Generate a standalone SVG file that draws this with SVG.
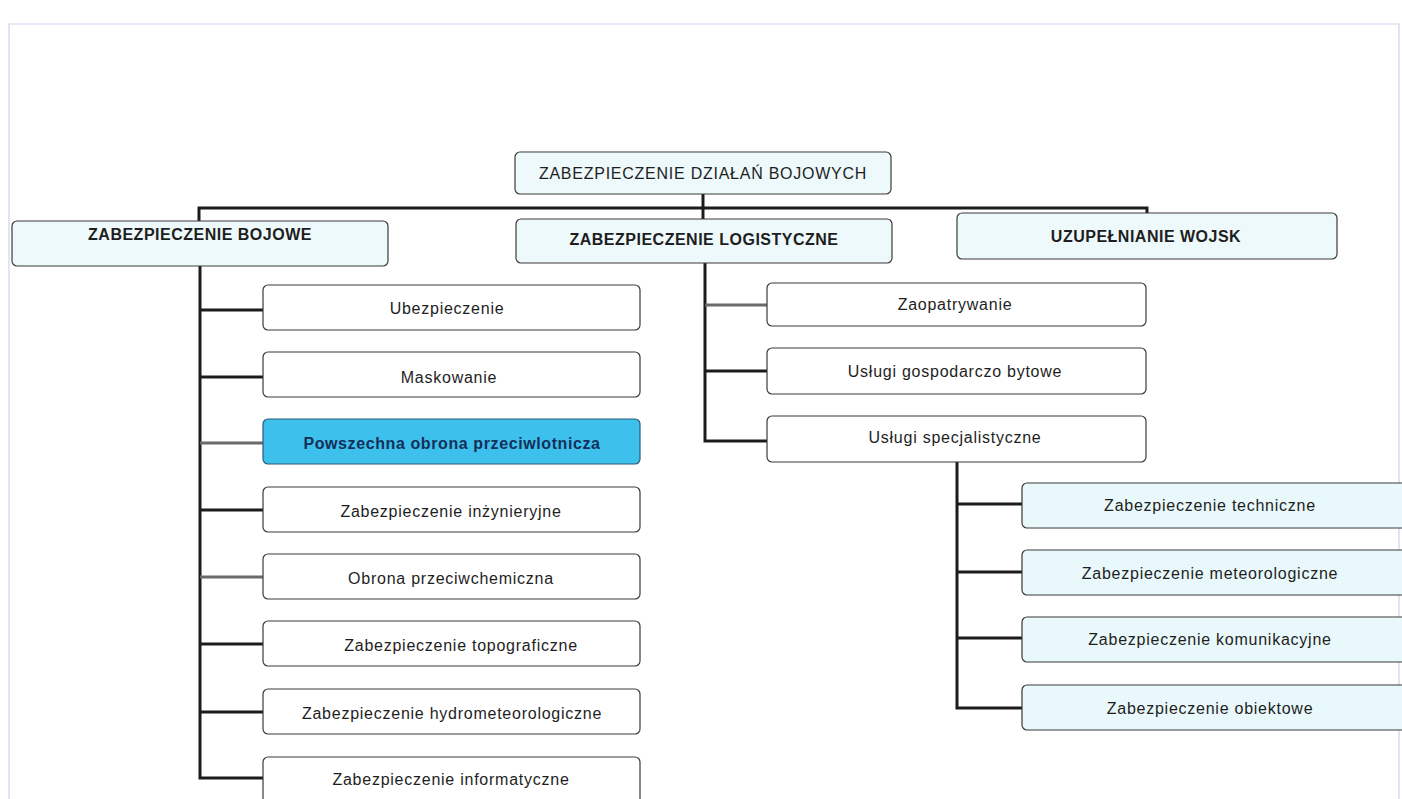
<svg xmlns="http://www.w3.org/2000/svg" width="1402" height="799" viewBox="0 0 1402 799">
  <style>
    .box { stroke: #3a3a3a; stroke-width: 1.2; }
    .head { fill: #eef9fb; }
    .plain { fill: #ffffff; }
    .sub { fill: #e9f8fa; }
    .hot { fill: #3ec0ec; stroke: #2a5a78; }
    .t { font-family: "Liberation Sans", Arial, sans-serif; font-size: 16px; letter-spacing: 0.75px; fill: #1e1e1e; text-anchor: middle; }
    .tb { font-weight: bold; letter-spacing: 0.5px; }
    .thot { font-weight: bold; letter-spacing: 0.6px; fill: #14305a; }
    .wire { fill: none; stroke: #1c1c1c; stroke-width: 3; }
    .wire-soft { fill: none; stroke: #6a6a6a; stroke-width: 3; }
  </style>

  <rect width="1402" height="799" fill="#ffffff"/>
  <!-- page frame -->
  <path d="M9 799 V24 H1399 V799" fill="none" stroke="#cfd3ee" stroke-width="1.2"/>

  <!-- connectors -->
  <g id="connectors">
    <!-- root to level 1 -->
    <path class="wire" d="M703 194 V219"/>
    <path class="wire" d="M199 222 V208 H1147 V214"/>
    <!-- combat branch trunk -->
    <path class="wire" d="M200 266 V778 H264"/>
    <path class="wire" d="M200 310 H264"/>
    <path class="wire" d="M200 377 H264"/>
    <path class="wire-soft" d="M200 443 H264"/>
    <path class="wire" d="M200 510 H264"/>
    <path class="wire-soft" d="M200 577 H264"/>
    <path class="wire" d="M200 644 H264"/>
    <path class="wire" d="M200 712 H264"/>
    <!-- logistics branch trunk -->
    <path class="wire" d="M705 263 V441 H768"/>
    <path class="wire-soft" d="M705 305 H768"/>
    <path class="wire" d="M705 371 H768"/>
    <!-- specialist services trunk -->
    <path class="wire" d="M957 462 V708 H1022"/>
    <path class="wire" d="M957 504 H1022"/>
    <path class="wire" d="M957 572 H1022"/>
    <path class="wire" d="M957 638 H1022"/>
  </g>

  <!-- root -->
  <g id="root">
    <rect class="box head" x="515" y="152" width="376" height="42" rx="5"/>
    <text class="t" x="703" y="179">ZABEZPIECZENIE DZIAŁAŃ BOJOWYCH</text>
  </g>

  <!-- level 1 -->
  <g id="bojowe">
    <rect class="box head" x="12" y="221" width="376" height="45" rx="5"/>
    <text class="t tb" x="200" y="240">ZABEZPIECZENIE BOJOWE</text>
  </g>
  <g id="logistyczne">
    <rect class="box head" x="516" y="219" width="376" height="44" rx="5"/>
    <text class="t tb" x="704" y="245">ZABEZPIECZENIE LOGISTYCZNE</text>
  </g>
  <g id="uzupelnianie">
    <rect class="box head" x="957" y="213" width="380" height="46" rx="5"/>
    <text class="t tb" x="1146" y="242">UZUPEŁNIANIE WOJSK</text>
  </g>

  <!-- combat support items -->
  <g id="ubezpieczenie">
    <rect class="box plain" x="263" y="285" width="377" height="45" rx="5"/>
    <text class="t" x="447" y="314">Ubezpieczenie</text>
  </g>
  <g id="maskowanie">
    <rect class="box plain" x="263" y="352" width="377" height="45" rx="5"/>
    <text class="t" x="449" y="383">Maskowanie</text>
  </g>
  <g id="powszechna">
    <rect class="box hot" x="263" y="419" width="377" height="45" rx="5"/>
    <text class="t thot" x="452" y="449">Powszechna obrona przeciwlotnicza</text>
  </g>
  <g id="inzynieryjne">
    <rect class="box plain" x="263" y="487" width="377" height="45" rx="5"/>
    <text class="t" x="451" y="517">Zabezpieczenie inżynieryjne</text>
  </g>
  <g id="przeciwchemiczna">
    <rect class="box plain" x="263" y="554" width="377" height="45" rx="5"/>
    <text class="t" x="451" y="584">Obrona przeciwchemiczna</text>
  </g>
  <g id="topograficzne">
    <rect class="box plain" x="263" y="621" width="377" height="45" rx="5"/>
    <text class="t" x="461" y="651">Zabezpieczenie topograficzne</text>
  </g>
  <g id="hydrometeorologiczne">
    <rect class="box plain" x="263" y="689" width="377" height="45" rx="5"/>
    <text class="t" x="452" y="719">Zabezpieczenie hydrometeorologiczne</text>
  </g>
  <g id="informatyczne">
    <rect class="box plain" x="263" y="757" width="377" height="60" rx="5"/>
    <text class="t" x="451" y="785">Zabezpieczenie informatyczne</text>
  </g>

  <!-- logistics items -->
  <g id="zaopatrywanie">
    <rect class="box plain" x="767" y="283" width="379" height="43" rx="5"/>
    <text class="t" x="955" y="310">Zaopatrywanie</text>
  </g>
  <g id="gospodarczo">
    <rect class="box plain" x="767" y="348" width="379" height="46" rx="5"/>
    <text class="t" x="955" y="377">Usługi gospodarczo bytowe</text>
  </g>
  <g id="specjalistyczne">
    <rect class="box plain" x="767" y="416" width="379" height="46" rx="5"/>
    <text class="t" x="955" y="443">Usługi specjalistyczne</text>
  </g>

  <!-- specialist services items -->
  <g id="techniczne">
    <rect class="box sub" x="1022" y="483" width="400" height="45" rx="5"/>
    <text class="t" x="1210" y="511">Zabezpieczenie techniczne</text>
  </g>
  <g id="meteorologiczne">
    <rect class="box sub" x="1022" y="550" width="400" height="45" rx="5"/>
    <text class="t" x="1210" y="579">Zabezpieczenie meteorologiczne</text>
  </g>
  <g id="komunikacyjne">
    <rect class="box sub" x="1022" y="617" width="400" height="45" rx="5"/>
    <text class="t" x="1210" y="645">Zabezpieczenie komunikacyjne</text>
  </g>
  <g id="obiektowe">
    <rect class="box sub" x="1022" y="685" width="400" height="45" rx="5"/>
    <text class="t" x="1210" y="714">Zabezpieczenie obiektowe</text>
  </g>
</svg>
